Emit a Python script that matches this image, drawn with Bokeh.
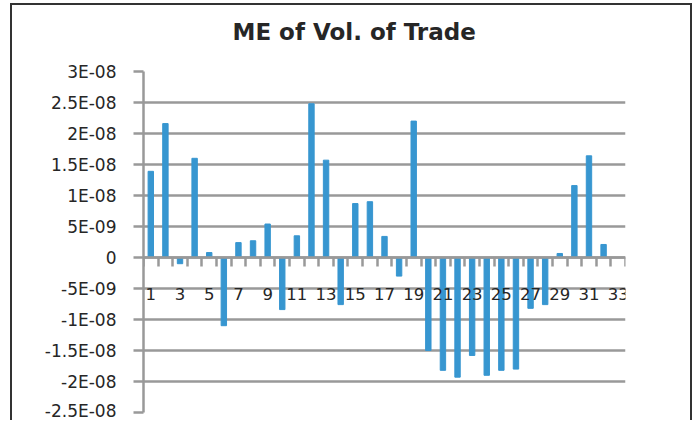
from bokeh.plotting import figure
from bokeh.models import Range1d, FixedTicker, Title
from bokeh.embed import file_html
from bokeh.resources import INLINE

# ---- data ----
categories = list(range(1, 34))
values = [1.39e-08, 2.16e-08, -1.0e-09, 1.60e-08, 0.8e-09, -1.10e-08, 2.4e-09,
          2.7e-09, 5.4e-09, -8.4e-09, 3.5e-09, 2.48e-08, 1.57e-08, -7.6e-09,
          8.7e-09, 9.0e-09, 3.4e-09, -3.0e-09, 2.2e-08, -1.5e-08, -1.82e-08,
          -1.93e-08, -1.58e-08, -1.9e-08, -1.82e-08, -1.8e-08, -8.2e-09,
          -7.6e-09, 0.65e-09, 1.16e-08, 1.64e-08, 2.1e-09, 0.0]
x_label_cats = [1, 3, 5, 7, 9, 11, 13, 15, 17, 19, 21, 23, 25, 27, 29, 31, 33]
y_ticks = [-2.5e-08, -2e-08, -1.5e-08, -1e-08, -5e-09, 0.0,
           5e-09, 1e-08, 1.5e-08, 2e-08, 2.5e-08, 3e-08]
y_tick_labels = ["-2.5E-08", "-2E-08", "-1.5E-08", "-1E-08", "-5E-09", "0",
                 "5E-09", "1E-08", "1.5E-08", "2E-08", "2.5E-08", "3E-08"]
title_text = "ME of Vol. of Trade"

GRID = "#999999"
BAR = "#3796D0"
TXT = "#262626"

cat_edges = [c - 0.5 for c in categories] + [categories[-1] + 0.5]

p = figure(frame_width=482, frame_height=341, output_backend="svg",
           toolbar_location=None,
           x_range=Range1d(cat_edges[0], cat_edges[-1]),
           y_range=Range1d(y_ticks[0], y_ticks[-1]),
           min_border_left=131, min_border_right=65, min_border_top=66,
           min_border_bottom=8)
p.styles = {"border-top": "2px solid #333", "border-left": "2px solid #333",
            "border-right": "2px solid #333",
            "margin-left": "10px", "margin-top": "3px"}
p.outline_line_color = None
p.background_fill_color = "white"
p.border_fill_color = "white"

p.vbar(x=categories, top=values, bottom=0, width=0.37, color=BAR)

# title: a spacer panel next to the frame, then the real title above it
p.add_layout(Title(text=" ", text_font_size="1px", standoff=22), "above")
p.add_layout(Title(text=title_text, align="left", offset=89,
                   vertical_align="bottom", standoff=4,
                   text_font="DejaVu Sans", text_font_style="bold",
                   text_font_size="23px", text_color=TXT), "above")

# y axis
yax = p.yaxis[0]
yax.ticker = FixedTicker(ticks=y_ticks)
yax.major_label_overrides = {t: l for t, l in zip(y_ticks, y_tick_labels)}
yax.axis_line_color = GRID
yax.axis_line_width = 2.5
yax.major_tick_line_color = GRID
yax.major_tick_line_width = 2.5
yax.major_tick_out = 10
yax.major_tick_in = 0
yax.minor_tick_line_color = None
yax.major_label_standoff = 17
yax.major_label_text_font = "DejaVu Sans"
yax.major_label_text_font_size = "17px"
yax.major_label_text_color = TXT

p.ygrid.ticker = FixedTicker(ticks=y_ticks)
p.ygrid.grid_line_color = GRID
p.ygrid.grid_line_width = 2.5
p.xgrid.grid_line_color = None

# x axis at zero
xax = p.xaxis[0]
xax.fixed_location = 0
xax.ticker = FixedTicker(ticks=x_label_cats, minor_ticks=cat_edges)
xax.axis_line_color = GRID
xax.axis_line_width = 2.5
xax.major_tick_line_color = None
xax.major_tick_out = 0
xax.major_tick_in = 0
xax.minor_tick_line_color = GRID
xax.minor_tick_line_width = 2.5
xax.minor_tick_out = 9
xax.minor_tick_in = 0
xax.major_label_standoff = 21
xax.major_label_text_font = "DejaVu Sans"
xax.major_label_text_font_size = "16.5px"
xax.major_label_text_color = TXT

open("out.html", "w").write(file_html(p, INLINE))
